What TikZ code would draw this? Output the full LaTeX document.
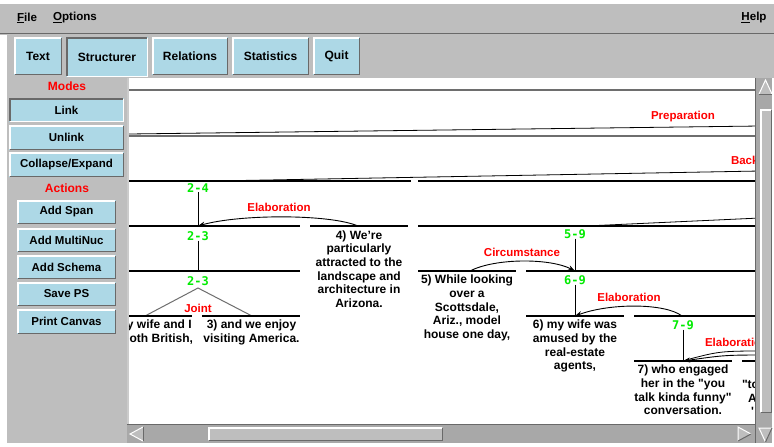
\documentclass[tikz,border=0pt]{standalone}
\usepackage{fontspec}
\setmainfont{Liberation Sans}[Ligatures=TeXOff]
\newfontfamily\monof{DejaVu Sans Mono}
\usetikzlibrary{arrows.meta}
\definecolor{guigray}{RGB}{190,190,190}
\definecolor{trough}{RGB}{168,168,168}
\definecolor{btnblue}{RGB}{173,216,230}
\definecolor{lblgreen}{RGB}{0,235,0}
\definecolor{relred}{RGB}{255,0,0}
\definecolor{shadow}{RGB}{105,105,105}
\definecolor{treegray}{RGB}{110,110,110}
\newcommand\bevel[3]{%
  \draw[#2, line width=1.5pt] ([xshift=0.75pt,yshift=0.75pt]#1.south west) -- ([xshift=0.75pt,yshift=-0.75pt]#1.north west) -- ([xshift=-0.75pt,yshift=-0.75pt]#1.north east);
  \draw[#3, line width=1.5pt] ([xshift=0.75pt,yshift=0.75pt]#1.south west) -- ([xshift=-0.75pt,yshift=0.75pt]#1.south east) -- ([xshift=-0.75pt,yshift=-0.75pt]#1.north east);
}
\begin{document}
\begin{tikzpicture}[x=1pt,y=-1pt,
  every node/.style={inner sep=0pt, outer sep=0pt},
  btn/.style={fill=btnblue, anchor=north west, font=\bfseries\fontsize{12}{14}\selectfont},
  sbtn/.style={fill=btnblue, anchor=north west, font=\bfseries\fontsize{11.5}{14}\selectfont},
  thumb/.style={fill=guigray, anchor=north west},
  menu/.style={font=\bfseries\fontsize{11.6}{14}\selectfont},
  hdr/.style={text=relred, font=\bfseries\fontsize{12}{14}\selectfont},
  seg/.style={line width=1.1pt, black},
  thinline/.style={line width=0.8pt, black},
  grayline/.style={line width=1.6pt, treegray},
  rel/.style={text=relred, font=\bfseries\fontsize{11.5}{14}\selectfont},
  spanlbl/.style={text=lblgreen, font=\monof\bfseries\fontsize{12}{14}\selectfont},
  edu/.style={align=center, anchor=north, font=\bfseries\fontsize{12}{13.7}\selectfont},
  frag/.style={anchor=west, font=\bfseries\fontsize{12}{13.7}\selectfont},
  relarc/.style={line width=0.9pt, black, -{Stealth[length=7pt,width=5pt]}},
  joint/.style={line width=1pt, treegray}
]
\useasboundingbox (0,0) rectangle (774,447);
% window background
\fill[white] (0,0) rectangle (774,447);
\fill[guigray] (0,4) rectangle (774,443);
\fill[white] (0,35) rectangle (7,447);
\draw[shadow, line width=1.3pt] (0,33.5) -- (774,33.5);

% menu bar
\node[menu] (mFile) at (27,18) {\underline{F}ile};
\node[menu] (mOpt) at (75,18) {\underline{O}ptions};
\node[menu] (mHelp) at (754,18) {\underline{H}elp};

% toolbar
\node[btn, minimum width=48pt, minimum height=38pt] (bText) at (14,37) {Text};
\node[btn, minimum width=82pt, minimum height=40pt] (bStruct) at (66,37) {\raisebox{-2pt}{Structurer}};
\node[btn, minimum width=76pt, minimum height=38pt] (bRel) at (152,37) {Relations};
\node[btn, minimum width=77pt, minimum height=38pt] (bStat) at (232,37) {Statistics};
\node[btn, minimum width=47pt, minimum height=38pt] (bQuit) at (313,37) {Quit};
\bevel{bText}{white}{shadow}
\bevel{bStruct}{shadow}{white}
\bevel{bRel}{white}{shadow}
\bevel{bStat}{white}{shadow}
\bevel{bQuit}{white}{shadow}

% left panel
\node[hdr] (hModes) at (67,86) {Modes};
\node[sbtn, minimum width=115pt, minimum height=24pt] (bLink) at (9,98) {Link};
\node[sbtn, minimum width=115pt, minimum height=25pt] (bUnlink) at (9,125) {Unlink};
\node[sbtn, minimum width=115pt, minimum height=25pt] (bColl) at (9,152) {Collapse/Expand};
\node[hdr] (hActions) at (67,188) {Actions};
\node[sbtn, minimum width=99pt, minimum height=24pt] (bSpan) at (17,200) {Add Span};
\node[sbtn, minimum width=99pt, minimum height=24pt] (bMulti) at (17,228) {Add MultiNuc};
\node[sbtn, minimum width=99pt, minimum height=24pt] (bSchema) at (17,255) {Add Schema};
\node[sbtn, minimum width=99pt, minimum height=24pt] (bSave) at (17,282) {Save PS};
\node[sbtn, minimum width=99pt, minimum height=25pt] (bPrint) at (17,309) {Print Canvas};
\bevel{bLink}{shadow}{white}
\bevel{bUnlink}{white}{shadow}
\bevel{bColl}{white}{shadow}
\bevel{bSpan}{white}{shadow}
\bevel{bMulti}{white}{shadow}
\bevel{bSchema}{white}{shadow}
\bevel{bSave}{white}{shadow}
\bevel{bPrint}{white}{shadow}

% canvas
\fill[white] (127,78) rectangle (755,424);
\draw[guigray!80!white, line width=2pt] (128,78) -- (128,424);

\begin{scope}
\clip (129,78) rectangle (755,424);
% upper levels of the tree
\draw[grayline] (129,90) -- (760,90);
\draw[thinline] (129,134) -- (760,126);
\draw[grayline] (129,136) -- (760,136);
\node[rel] (rPrep) at (683,117) {Preparation};
\draw[thinline] (213,181) -- (760,171);
\node[rel, anchor=west] (rBack) at (731,162) {Background};
\draw[seg] (129,181) -- (411,181);
\draw[seg] (418,181) -- (760,181);
\draw[thinline] (586,226) -- (760,218);

% span 2-4
\node[spanlbl] (s24) at (198,188) {2-4};
\coordinate (c23top) at (198,226);
\draw[seg] (129,226) -- (300,226);
\draw[thinline] (s24.south) -- (c23top);
\coordinate (c4top) at (358,226);
\draw[seg] (310,226) -- (408,226);
\node[rel] (rElab1) at (279,207) {Elaboration};
\draw[relarc] (c4top) .. controls (330,214) and (240,214) .. (c23top);

% node 4
\node[edu] (n4) at (359,230.5) {4) We’re\\particularly\\attracted to the\\landscape and\\architecture in\\Arizona.};

% span 2-3
\node[spanlbl] (s23a) at (198,236) {2-3};
\coordinate (c23low) at (198,271);
\draw[thinline] (s23a.south) -- (c23low);
\draw[seg] (129,271) -- (300,271);
\node[spanlbl] (s23b) at (198,281) {2-3};
\coordinate (cJapex) at (198,288);
\coordinate (c2top) at (145,316);
\coordinate (c3top) at (252,316);
\draw[joint] (c2top) -- (cJapex) -- (c3top);
\node[rel] (rJoint) at (198,308) {Joint};
\draw[seg] (129,316) -- (192,316);
\draw[seg] (202,316) -- (300,316);
\node[edu] (n2) at (147,320) {2) my wife and I\\are both British,};
\node[edu] (n3) at (251.5,320) {3) and we enjoy\\visiting America.};

% span 5-9
\draw[seg] (418,226) -- (760,226);
\node[spanlbl] (s59) at (575,234) {5-9};
\coordinate (c69top) at (575,271);
\draw[thinline] (s59.south) -- (c69top);
\draw[seg] (418,271) -- (516,271);
\draw[seg] (526,271) -- (760,271);
\coordinate (c5top) at (470,271);
\node[rel] (rCirc) at (522,252) {Circumstance};
\draw[relarc] (c5top) .. controls (495,258) and (550,258) .. (c69top);
\node[edu] (n5) at (467,275) {5) While looking\\over a\\Scottsdale,\\Ariz., model\\house one day,};

% span 6-9
\node[spanlbl] (s69) at (575,280) {6-9};
\coordinate (c6top) at (575,316);
\draw[thinline] (s69.south) -- (c6top);
\draw[seg] (526,316) -- (624,316);
\draw[seg] (634,316) -- (760,316);
\coordinate (c79top) at (682,316);
\node[rel] (rElab2) at (629,297) {Elaboration};
\draw[relarc] (c79top) .. controls (665,303) and (610,303) .. (c6top);
\node[edu] (n6) at (575,320) {6) my wife was\\amused by the\\real-estate\\agents,};

% span 7-9
\node[spanlbl] (s79) at (683,325) {7-9};
\coordinate (c7top) at (683,361);
\draw[thinline] (s79.south) -- (c7top);
\draw[seg] (634,361) -- (732,361);
\draw[seg] (742,361) -- (760,361);
\node[rel, anchor=west] (rElab3) at (705,342) {Elaboration};
\coordinate (c8a) at (770,351);
\coordinate (c8b) at (770,355);
\draw[thinline] (c8a) .. controls (720,351) .. (686,360);
\draw[relarc] (c8b) .. controls (725,355) .. (c7top);
\node[edu] (n7) at (683,365) {7) who engaged\\her in the "you\\talk kinda funny"\\conversation.};
\node[frag] (n8a) at (742,384) {"to};
\node[frag] (n8b) at (748,398) {A};
\node[frag] (n8c) at (751,411) {'};
\end{scope}

% horizontal scrollbar
\fill[trough] (127,424) rectangle (757,443);
\draw[shadow, line width=1pt] (127,424.5) -- (757,424.5);
\draw[white, fill=guigray, line width=1pt] (143,427) -- (130,434) -- (143,441);
\draw[shadow, line width=1pt] (143,427) -- (143,441);
\draw[white, fill=guigray, line width=1pt] (738,441) -- (738,427) -- (751,434);
\draw[shadow, line width=1pt] (751,434) -- (738,441);
\node[thumb, minimum width=235pt, minimum height=14pt] (hthumb) at (208,427) {};
\bevel{hthumb}{white}{shadow}

% vertical scrollbar
\fill[trough] (755,78) rectangle (772,443);
\draw[shadow, line width=1pt] (755.5,78) -- (755.5,443);
\fill[white] (772,78) rectangle (774,447);
\draw[white, fill=guigray, line width=1pt] (759,94) -- (765.5,80) -- (772,94);
\draw[shadow, line width=1pt] (759,94) -- (772,94);
\draw[white, fill=guigray, line width=1pt] (772,428) -- (759,428) -- (765.5,442);
\draw[shadow, line width=1pt] (765.5,442) -- (772,428);
\node[thumb, minimum width=12pt, minimum height=304pt] (vthumb) at (760,109) {};
\bevel{vthumb}{white}{shadow}
\end{tikzpicture}
\end{document}
